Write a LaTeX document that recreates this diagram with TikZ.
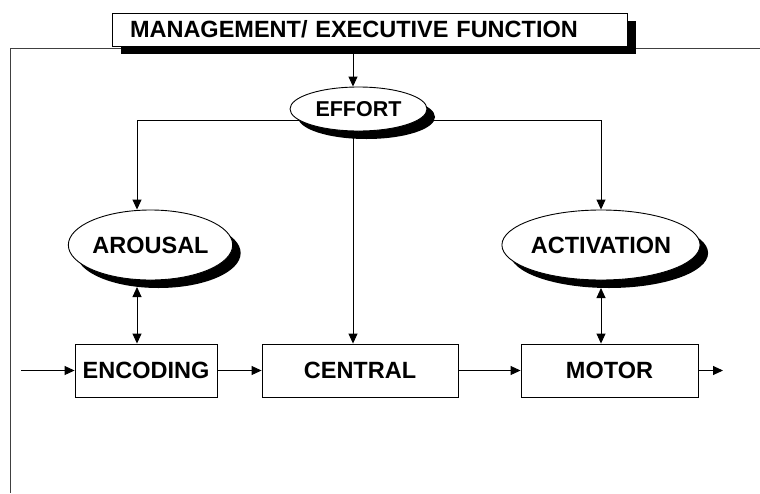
\documentclass[tikz,border=0pt]{standalone}
\usepackage{fontspec}
\setmainfont{Liberation Sans}
\usetikzlibrary{shapes.geometric,shadows,arrows.meta,calc}
\pgfdeclarelayer{background}
\pgfsetlayers{background,main}
\begin{document}
\begin{tikzpicture}[x=1pt,y=-1pt,
  every node/.style={font=\fontsize{23.5}{23.5}\selectfont\bfseries, text=black},
  shade box/.style={draw=black, line width=0.9pt, fill=white,
    drop shadow={shadow xshift=9pt, shadow yshift=-8pt, fill=black, opacity=1}},
  stage/.style={draw=black, line width=0.9pt, fill=white, rectangle,
    minimum height=53pt, inner sep=0pt},
  state/.style={ellipse, draw=black, line width=0.9pt, fill=white, inner sep=0pt,
    drop shadow={shadow xshift=8pt, shadow yshift=-8pt, fill=black, opacity=1}},
  link/.style={draw=black, line width=0.9pt},
  arr/.style={link, -{Triangle[length=10pt,width=9pt]}},
  dbl/.style={link, {Triangle[length=10pt,width=9pt]}-{Triangle[length=10pt,width=9pt]}},
  frame/.style={draw=black!75, line width=0.7pt}]
\useasboundingbox (0,0) rectangle (760,493);

% top-level controller
\node[shade box, rectangle, minimum width=515pt, minimum height=33pt,
  text width=479pt, inner xsep=18pt, inner ysep=0pt, align=left] (mgmt) at (369.5,29.5)
  {MANAGEMENT/ EXECUTIVE FUNCTION};

% energetic states
\node[state, minimum width=137pt, minimum height=44pt,
  font=\fontsize{21.5}{21.5}\selectfont\bfseries] (effort) at (358.5,109) {EFFORT};
\node[state, minimum width=151pt, minimum height=70pt] (arousal) at (150.5,245) {AROUSAL};
\node[state, minimum width=158pt, minimum height=70pt] (activation) at (601,245) {ACTIVATION};

% processing stages
\node[stage, minimum width=142pt] (encoding) at (146,370.5) {ENCODING};
\node[stage, minimum width=196pt] (central) at (360,370.5) {CENTRAL};
\node[stage, minimum width=177pt] (motor) at (609.5,370.5) {MOTOR};

% free ends and bends
\coordinate (frameL) at (10,48);
\coordinate (frameR) at (760,48);
\coordinate (frameB) at (10,493);
\coordinate (axis) at (353,120);
\coordinate (bendL) at (137,120);
\coordinate (bendR) at (601,120);
\coordinate (aroBase) at (137,287);
\coordinate (actBase) at (601,288);
\coordinate (input) at (21,370.5);
\coordinate (output) at (723,370.5);

\begin{pgfonlayer}{background}
  \draw[frame] (frameR) -- (frameL) -- (frameB);
  \draw[arr] (mgmt.south -| axis) -- (axis |- effort.north);
  \draw[arr] (axis) -- (bendL) -- (bendL |- arousal.north);
  \draw[arr] (axis) -- (bendR) -- (activation.north);
  \draw[arr] (axis) -- (axis |- central.north);
  \draw[dbl] (aroBase) -- (aroBase |- encoding.north);
  \draw[dbl] (actBase) -- (actBase |- motor.north);
\end{pgfonlayer}

\draw[arr] (input) -- (encoding.west);
\draw[arr] (encoding.east) -- (central.west);
\draw[arr] (central.east) -- (motor.west);
\draw[arr] (motor.east) -- (output);
\end{tikzpicture}
\end{document}
